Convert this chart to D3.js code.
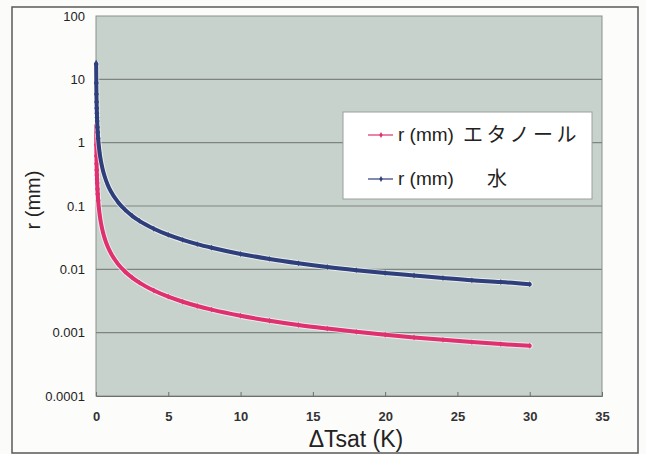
<!DOCTYPE html>
<html><head><meta charset="utf-8">
<script src="https://cdn.jsdelivr.net/npm/d3@7"></script>
<style>
html,body{margin:0;padding:0;background:#fbfbfa;}
svg{display:block;font-family:Arial,"Liberation Sans",sans-serif;}
</style></head>
<body>
<svg id="c" width="646" height="454"></svg>
<script>
// Data
const dT = [0.01,0.02,0.03,0.04,0.05,0.06,0.07,0.08,0.1,0.12,0.15,0.2,0.25,0.3,0.4,0.5,0.6,0.8,1,1.5,2,2.5,3,4,5,6,7,8,10,12,14,16,18,20,22,24,26,28,30];
const rWater = [17.5,8.75,5.83,4.38,3.5,2.92,2.5,2.19,1.75,1.46,1.17,0.875,0.7,0.583,0.438,0.35,0.292,0.219,0.175,0.117,0.0875,0.07,0.0583,0.0438,0.035,0.0292,0.025,0.0219,0.0175,0.0146,0.0125,0.0109,0.0097,0.00875,0.008,0.0073,0.0067,0.0063,0.0058];
const rEthanol = [1.85,0.925,0.617,0.463,0.37,0.308,0.264,0.231,0.185,0.154,0.123,0.0925,0.074,0.0617,0.0463,0.037,0.0308,0.0231,0.0185,0.0123,0.00925,0.0074,0.00617,0.00463,0.0037,0.00308,0.00264,0.00231,0.00185,0.00154,0.00132,0.00116,0.00103,0.000925,0.00084,0.00077,0.00071,0.00066,0.00062];
const xTicks = [0,5,10,15,20,25,30,35];
const yTicks = [0.0001,0.001,0.01,0.1,1,10,100];
const yTickLabels = ["0.0001","0.001","0.01","0.1","1","10","100"];
const seriesUnits = ["r (mm)","r (mm)"];
const seriesNames = ["エタノール","水"];

(function(){
const svg = d3.select("#c");
const pL=96,pR=602,pT=16,pB=396;
const x = d3.scaleLinear().domain([0,35]).range([pL,pR]);
const y = d3.scaleLog().domain([0.0001,100]).range([pB,pT]);

// outer frame
svg.append("rect").attr("x",12).attr("y",7).attr("width",626).attr("height",446)
  .attr("fill","#fcfcfb").attr("stroke","#5a5a5a").attr("stroke-width",1.5);

// plot background
svg.append("rect").attr("x",pL).attr("y",pT).attr("width",pR-pL).attr("height",pB-pT)
  .attr("fill","#c8d2cd").attr("stroke","#8a908c").attr("stroke-width",1);

// gridlines
svg.append("g").selectAll("line").data(yTicks.slice(1,-1)).join("line")
  .attr("x1",pL).attr("x2",pR).attr("y1",d=>y(d)).attr("y2",d=>y(d))
  .attr("stroke","#7e8581").attr("stroke-width",1.2);

// axes
const yAxis = d3.axisLeft(y).tickValues(yTicks).tickFormat((d,i)=>yTickLabels[i]).tickSize(0).tickPadding(11);
const gy = svg.append("g").attr("transform",`translate(${pL},0)`).call(yAxis);
gy.select(".domain").remove();
gy.selectAll("text").attr("font-size",13).attr("fill","#222");

const xAxis = d3.axisBottom(x).tickValues(xTicks).tickSize(-4).tickPadding(16);
const gx = svg.append("g").attr("transform",`translate(0,${pB})`).call(xAxis);
gx.select(".domain").attr("stroke","#6a706c");
gx.selectAll("line").attr("stroke","#6a706c");
gx.selectAll("text").attr("font-size",13).attr("font-weight","bold").attr("fill","#333");

// titles
svg.append("text").attr("transform",`translate(40,${(pT+pB)/2-6}) rotate(-90)`)
  .attr("text-anchor","middle").attr("font-size",20).attr("fill","#222").text("r (mm)");
svg.append("text").attr("x",356).attr("y",447).attr("text-anchor","middle")
  .attr("font-size",23).attr("fill","#222").text("\u0394Tsat (K)");

// series
const series = [
  {vals:rEthanol,color:"#e0306f"},
  {vals:rWater,color:"#2e3f7c"}
];
const line = d3.line().x(d=>x(d[0])).y(d=>y(d[1])).curve(d3.curveMonotoneX);
const sym = d3.symbol().type(d3.symbolDiamond).size(20);
const symSmall = d3.symbol().type(d3.symbolDiamond).size(10);
series.forEach(s=>{
  const pts = dT.map((t,i)=>[t,s.vals[i]]);
  svg.append("path").attr("d",line(pts)).attr("fill","none")
    .attr("stroke","#ffffff").attr("stroke-opacity",0.6).attr("stroke-width",6).attr("stroke-linecap","round");
  svg.append("path").attr("d",line(pts)).attr("fill","none")
    .attr("stroke",s.color).attr("stroke-width",4).attr("stroke-linecap","round");
  svg.append("g").selectAll("path").data(pts).join("path")
    .attr("transform",d=>`translate(${x(d[0])},${y(d[1])})`)
    .attr("d",d=>d[0]<0.2?sym():symSmall()).attr("fill",s.color);
});

// legend
const lg = svg.append("g");
lg.append("rect").attr("x",343).attr("y",112).attr("width",249).attr("height",87)
  .attr("fill","#ffffff").attr("stroke","#9aa09c").attr("stroke-width",1);
const nameX = [463,487];
series.forEach((s,i)=>{
  const yy = 135 + i*44;
  lg.append("line").attr("x1",368).attr("x2",393).attr("y1",yy).attr("y2",yy)
    .attr("stroke",s.color).attr("stroke-width",1.2);
  lg.append("path").attr("transform",`translate(381,${yy})`).attr("d",symSmall).attr("fill",s.color);
  lg.append("text").attr("x",398).attr("y",yy+6).attr("font-size",19).attr("fill","#222")
    .text(seriesUnits[i]);
  lg.append("text").attr("x",nameX[i]).attr("y",yy+7).attr("font-size",20).attr("fill","#222")
    .attr("letter-spacing",3.5)
    .attr("font-family","'Noto Sans CJK JP',sans-serif")
    .text(seriesNames[i]);
});
})();
</script>
</body></html>
